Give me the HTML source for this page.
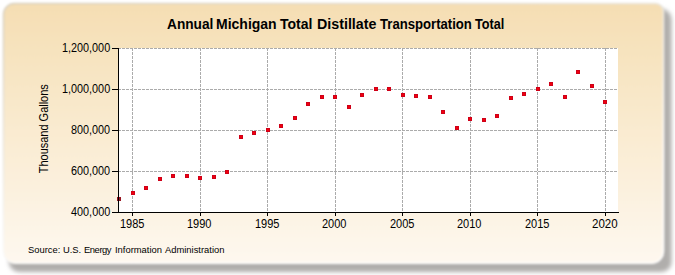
<!DOCTYPE html>
<html><head><meta charset="utf-8"><style>
html,body{margin:0;padding:0;background:#fff;width:675px;height:275px;overflow:hidden}
svg{display:block}
text{font-family:"Liberation Sans",sans-serif}
</style></head><body>
<svg width="675" height="275" viewBox="0 0 675 275">
<defs>
<linearGradient id="bg" x1="0" y1="0" x2="0" y2="1">
<stop offset="0" stop-color="#F5DEB3"/>
<stop offset="1" stop-color="#FEF8EF"/>
</linearGradient>
<linearGradient id="rim" gradientUnits="userSpaceOnUse" x1="3" y1="3" x2="60" y2="280">
<stop offset="0" stop-color="#d8d0c0"/>
<stop offset="1" stop-color="#ffffff"/>
</linearGradient>
<filter id="sh" x="-5%" y="-10%" width="110%" height="120%"><feGaussianBlur stdDeviation="2.3"/></filter>
<filter id="pb" x="-5%" y="-10%" width="110%" height="120%"><feGaussianBlur stdDeviation="0.9"/></filter>
</defs>
<rect x="9" y="9" width="662.5" height="263" rx="10" fill="#b0aeac" filter="url(#sh)"/>
<path d="M14.5,3.5 H655.5 A8,8 0 0 1 663.5,11.5 V251.3 A12,12 0 0 1 651.5,263.3 H15.5 A12,12 0 0 1 3.5,251.3 V14.5 A11,11 0 0 1 14.5,3.5 Z" fill="url(#bg)" stroke="url(#rim)" stroke-width="1.6" filter="url(#pb)"/>
<rect x="119" y="48" width="499" height="164" fill="#fff"/>
<g stroke="#ababab" stroke-width="1" stroke-dasharray="3 1" fill="none">
<line x1="118" y1="48.5" x2="618" y2="48.5"/>
<line x1="118" y1="89.5" x2="618" y2="89.5"/>
<line x1="118" y1="130.5" x2="618" y2="130.5"/>
<line x1="118" y1="171.5" x2="618" y2="171.5"/>
<line x1="132.5" y1="48" x2="132.5" y2="212"/>
<line x1="200.5" y1="48" x2="200.5" y2="212"/>
<line x1="267.5" y1="48" x2="267.5" y2="212"/>
<line x1="335.5" y1="48" x2="335.5" y2="212"/>
<line x1="402.5" y1="48" x2="402.5" y2="212"/>
<line x1="470.5" y1="48" x2="470.5" y2="212"/>
<line x1="537.5" y1="48" x2="537.5" y2="212"/>
<line x1="605.5" y1="48" x2="605.5" y2="212"/>
</g>
<g fill="#CE0018">
<rect x="117" y="197" width="4" height="4" fill="#981420"/>
<rect x="131" y="191" width="4" height="4"/><rect x="132" y="192" width="2" height="2" fill="#F2000C"/>
<rect x="144" y="186" width="4" height="4"/><rect x="145" y="187" width="2" height="2" fill="#F2000C"/>
<rect x="158" y="177" width="4" height="4"/><rect x="159" y="178" width="2" height="2" fill="#F2000C"/>
<rect x="171" y="174" width="4" height="4"/><rect x="172" y="175" width="2" height="2" fill="#F2000C"/>
<rect x="185" y="174" width="4" height="4"/><rect x="186" y="175" width="2" height="2" fill="#F2000C"/>
<rect x="198" y="176" width="4" height="4"/><rect x="199" y="177" width="2" height="2" fill="#F2000C"/>
<rect x="212" y="175" width="4" height="4"/><rect x="213" y="176" width="2" height="2" fill="#F2000C"/>
<rect x="225" y="170" width="4" height="4"/><rect x="226" y="171" width="2" height="2" fill="#F2000C"/>
<rect x="239" y="135" width="4" height="4"/><rect x="240" y="136" width="2" height="2" fill="#F2000C"/>
<rect x="252" y="131" width="4" height="4"/><rect x="253" y="132" width="2" height="2" fill="#F2000C"/>
<rect x="266" y="128" width="4" height="4"/><rect x="267" y="129" width="2" height="2" fill="#F2000C"/>
<rect x="279" y="124" width="4" height="4"/><rect x="280" y="125" width="2" height="2" fill="#F2000C"/>
<rect x="293" y="116" width="4" height="4"/><rect x="294" y="117" width="2" height="2" fill="#F2000C"/>
<rect x="306" y="102" width="4" height="4"/><rect x="307" y="103" width="2" height="2" fill="#F2000C"/>
<rect x="320" y="95" width="4" height="4"/><rect x="321" y="96" width="2" height="2" fill="#F2000C"/>
<rect x="333" y="95" width="4" height="4"/><rect x="334" y="96" width="2" height="2" fill="#F2000C"/>
<rect x="347" y="105" width="4" height="4"/><rect x="348" y="106" width="2" height="2" fill="#F2000C"/>
<rect x="360" y="93" width="4" height="4"/><rect x="361" y="94" width="2" height="2" fill="#F2000C"/>
<rect x="374" y="87" width="4" height="4"/><rect x="375" y="88" width="2" height="2" fill="#F2000C"/>
<rect x="387" y="87" width="4" height="4"/><rect x="388" y="88" width="2" height="2" fill="#F2000C"/>
<rect x="401" y="93" width="4" height="4"/><rect x="402" y="94" width="2" height="2" fill="#F2000C"/>
<rect x="414" y="94" width="4" height="4"/><rect x="415" y="95" width="2" height="2" fill="#F2000C"/>
<rect x="428" y="95" width="4" height="4"/><rect x="429" y="96" width="2" height="2" fill="#F2000C"/>
<rect x="441" y="110" width="4" height="4"/><rect x="442" y="111" width="2" height="2" fill="#F2000C"/>
<rect x="455" y="126" width="4" height="4"/><rect x="456" y="127" width="2" height="2" fill="#F2000C"/>
<rect x="468" y="117" width="4" height="4"/><rect x="469" y="118" width="2" height="2" fill="#F2000C"/>
<rect x="482" y="118" width="4" height="4"/><rect x="483" y="119" width="2" height="2" fill="#F2000C"/>
<rect x="495" y="114" width="4" height="4"/><rect x="496" y="115" width="2" height="2" fill="#F2000C"/>
<rect x="509" y="96" width="4" height="4"/><rect x="510" y="97" width="2" height="2" fill="#F2000C"/>
<rect x="522" y="92" width="4" height="4"/><rect x="523" y="93" width="2" height="2" fill="#F2000C"/>
<rect x="536" y="87" width="4" height="4"/><rect x="537" y="88" width="2" height="2" fill="#F2000C"/>
<rect x="549" y="82" width="4" height="4"/><rect x="550" y="83" width="2" height="2" fill="#F2000C"/>
<rect x="563" y="95" width="4" height="4"/><rect x="564" y="96" width="2" height="2" fill="#F2000C"/>
<rect x="576" y="70" width="4" height="4"/><rect x="577" y="71" width="2" height="2" fill="#F2000C"/>
<rect x="590" y="84" width="4" height="4"/><rect x="591" y="85" width="2" height="2" fill="#F2000C"/>
<rect x="603" y="100" width="4" height="4"/><rect x="604" y="101" width="2" height="2" fill="#F2000C"/>
</g>
<g stroke="#000" stroke-width="1" fill="none">
<line x1="118.5" y1="48" x2="118.5" y2="213"/>
<line x1="112" y1="212.5" x2="619" y2="212.5"/>
<line x1="112" y1="48.5" x2="118" y2="48.5"/>
<line x1="112" y1="89.5" x2="118" y2="89.5"/>
<line x1="112" y1="130.5" x2="118" y2="130.5"/>
<line x1="112" y1="171.5" x2="118" y2="171.5"/>
<line x1="112" y1="212.5" x2="118" y2="212.5"/>
<line x1="132.5" y1="212" x2="132.5" y2="216"/>
<line x1="200.5" y1="212" x2="200.5" y2="216"/>
<line x1="267.5" y1="212" x2="267.5" y2="216"/>
<line x1="335.5" y1="212" x2="335.5" y2="216"/>
<line x1="402.5" y1="212" x2="402.5" y2="216"/>
<line x1="470.5" y1="212" x2="470.5" y2="216"/>
<line x1="537.5" y1="212" x2="537.5" y2="216"/>
<line x1="605.5" y1="212" x2="605.5" y2="216"/>
</g>
<g font-size="14" font-weight="bold" fill="#000">
<text x="167" y="29" textLength="46.4" lengthAdjust="spacingAndGlyphs">Annual</text>
<text x="216" y="29" textLength="60.67" lengthAdjust="spacingAndGlyphs">Michigan</text>
<text x="280" y="29" textLength="32.4" lengthAdjust="spacingAndGlyphs">Total</text>
<text x="317" y="29" textLength="59.4" lengthAdjust="spacingAndGlyphs">Distillate</text>
<text x="380" y="29" textLength="91.9" lengthAdjust="spacingAndGlyphs">Transportation</text>
<text x="475" y="29" textLength="29.3" lengthAdjust="spacingAndGlyphs">Total</text>
</g>
<g font-size="12" fill="#000">
<text x="62" y="52" textLength="48.16" lengthAdjust="spacingAndGlyphs">1,200,000</text>
<text x="62" y="93" textLength="48.16" lengthAdjust="spacingAndGlyphs">1,000,000</text>
<text x="71" y="134" textLength="39.16" lengthAdjust="spacingAndGlyphs">800,000</text>
<text x="71" y="175" textLength="39.16" lengthAdjust="spacingAndGlyphs">600,000</text>
<text x="71" y="216" textLength="39.26" lengthAdjust="spacingAndGlyphs">400,000</text>
<text x="120" y="228" textLength="24.48" lengthAdjust="spacingAndGlyphs">1985</text>
<text x="187" y="228" textLength="24.48" lengthAdjust="spacingAndGlyphs">1990</text>
<text x="255" y="228" textLength="24.48" lengthAdjust="spacingAndGlyphs">1995</text>
<text x="322" y="228" textLength="24.48" lengthAdjust="spacingAndGlyphs">2000</text>
<text x="390" y="228" textLength="24.48" lengthAdjust="spacingAndGlyphs">2005</text>
<text x="457" y="228" textLength="24.48" lengthAdjust="spacingAndGlyphs">2010</text>
<text x="525" y="228" textLength="24.48" lengthAdjust="spacingAndGlyphs">2015</text>
<text x="592" y="228" textLength="25.59" lengthAdjust="spacingAndGlyphs">2020</text>
</g>
<text transform="translate(48,128.7) rotate(-90)" text-anchor="middle" font-size="12" fill="#000" textLength="89" lengthAdjust="spacingAndGlyphs">Thousand Gallons</text>
<g font-size="9.4" fill="#000">
<text x="28" y="253" textLength="32.3" lengthAdjust="spacing">Source:</text>
<text x="63" y="253" textLength="18.23" lengthAdjust="spacing">U.S.</text>
<text x="84" y="253" textLength="27.53" lengthAdjust="spacing">Energy</text>
<text x="115" y="253" textLength="46.9" lengthAdjust="spacing">Information</text>
<text x="165" y="253" textLength="59.4" lengthAdjust="spacing">Administration</text>
</g>
</svg>
</body></html>
